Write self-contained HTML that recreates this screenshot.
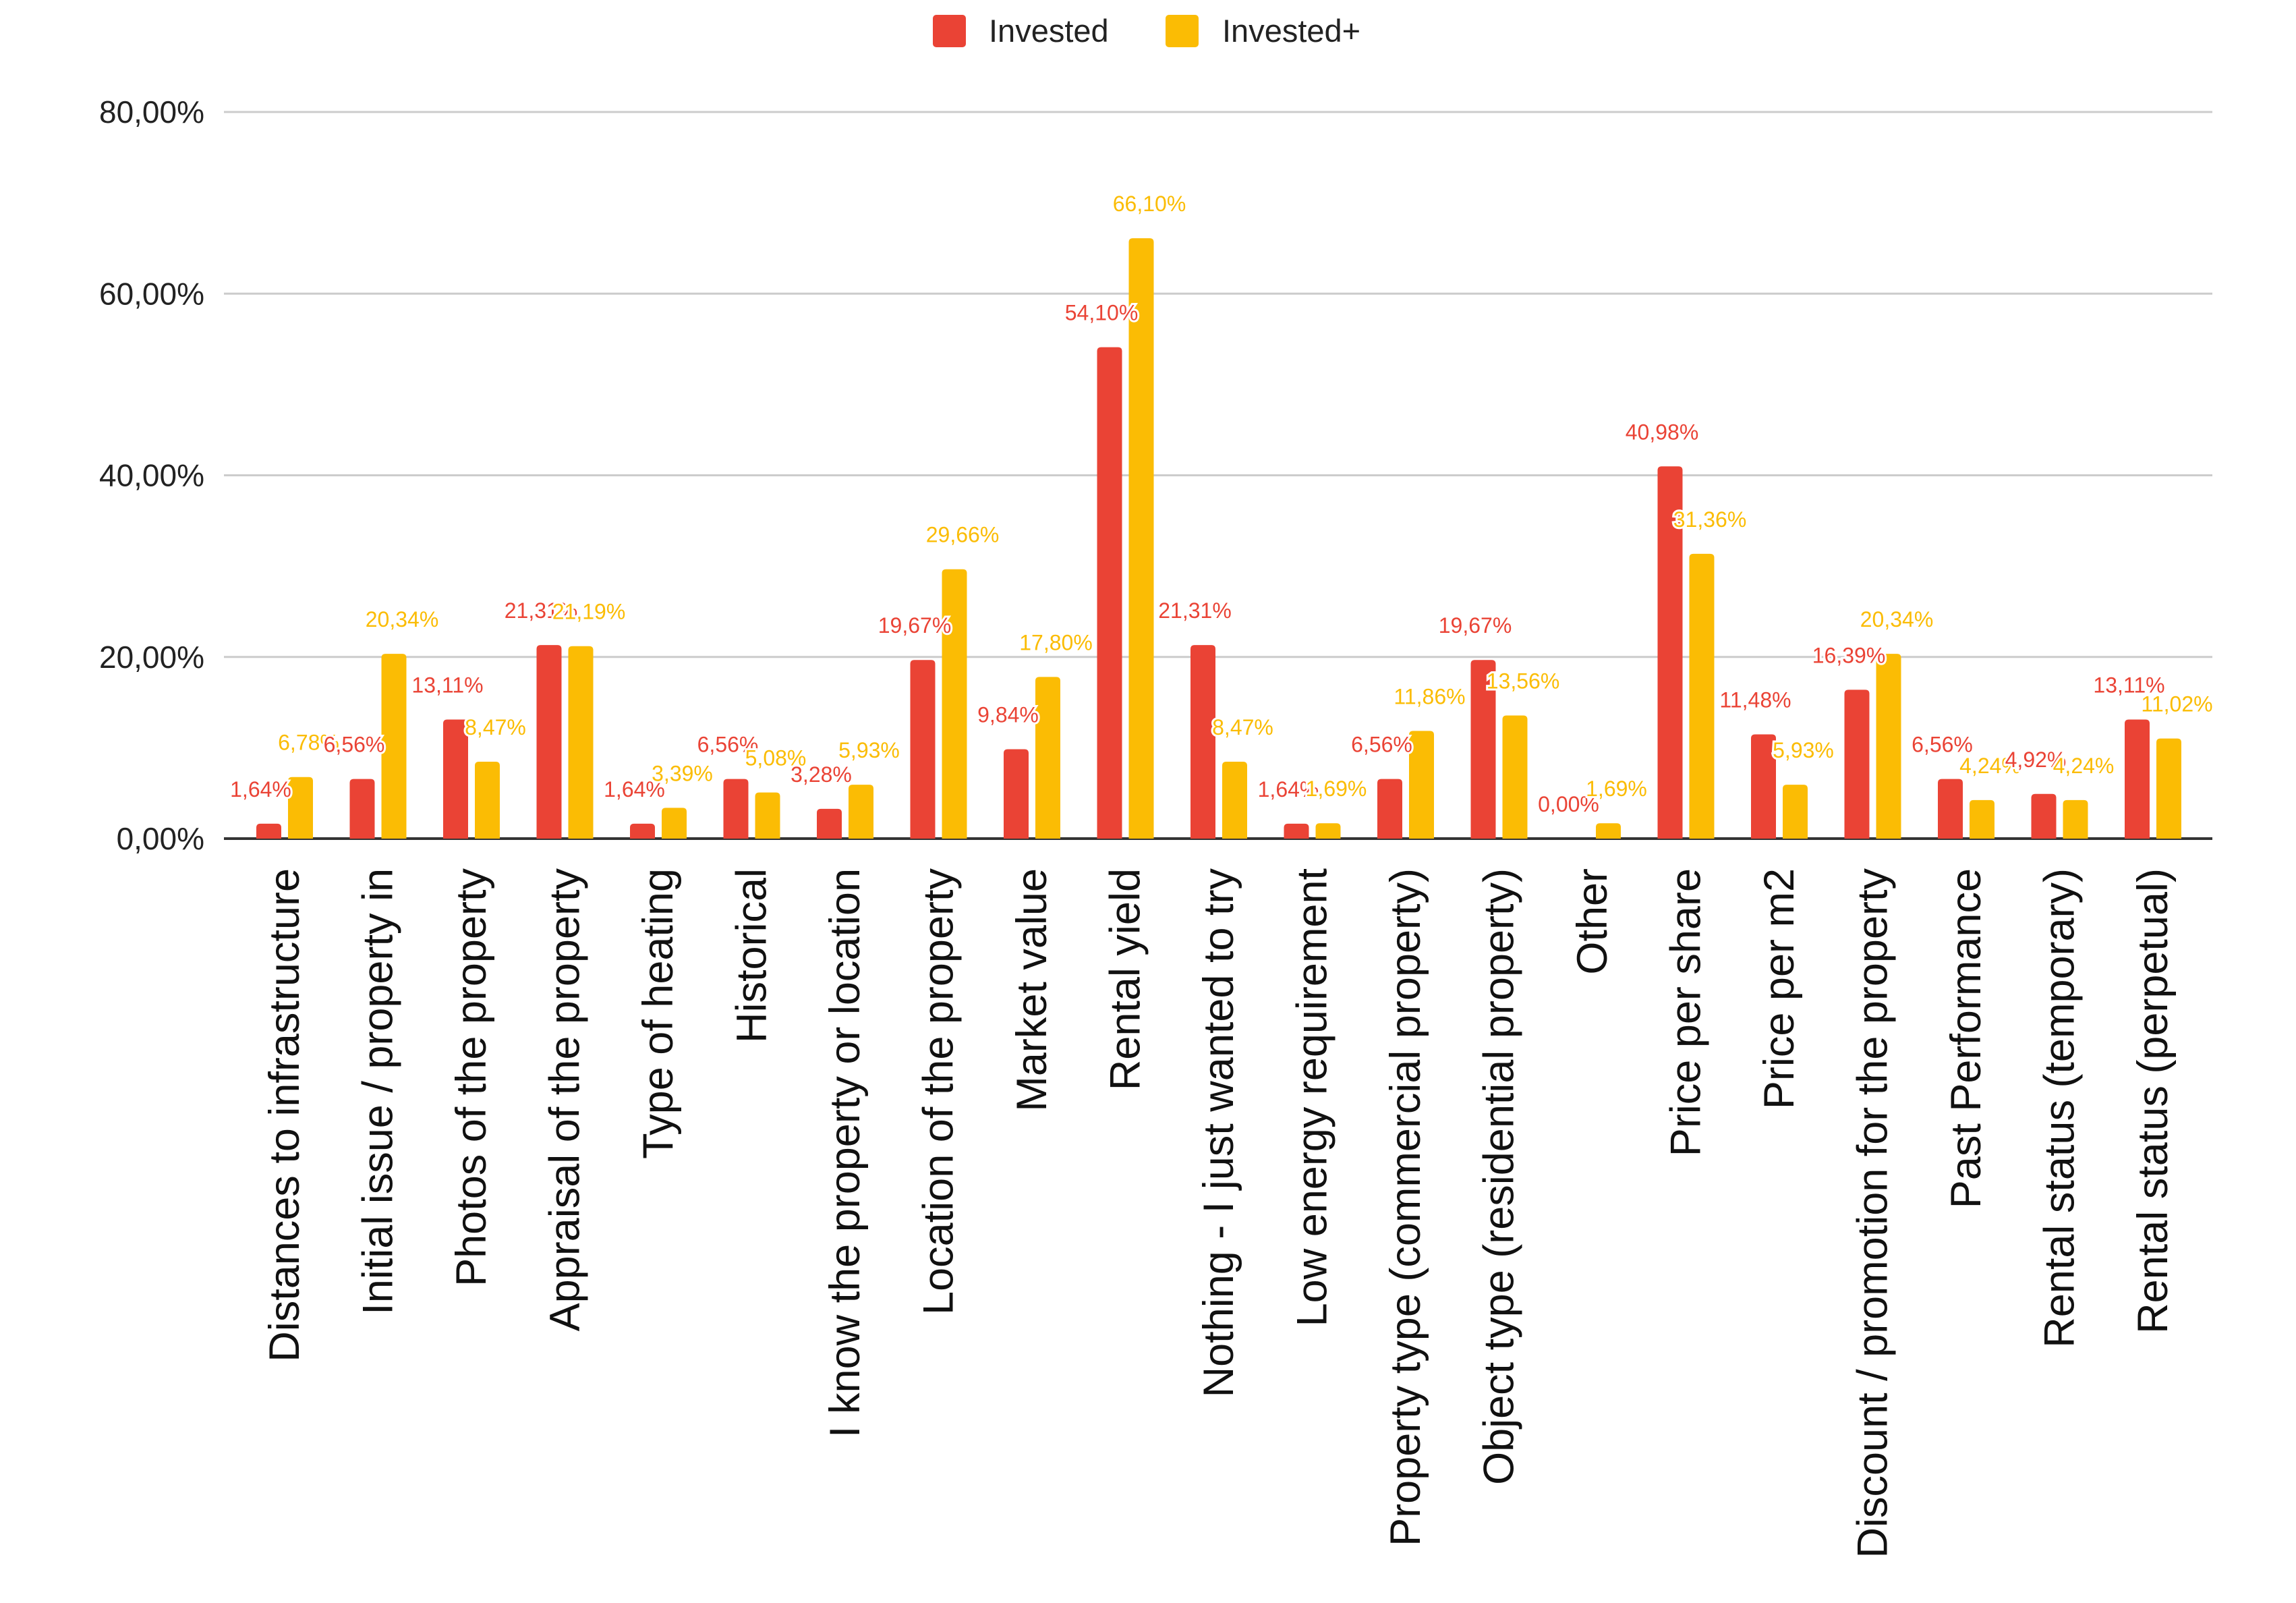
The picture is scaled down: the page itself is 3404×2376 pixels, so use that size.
<!DOCTYPE html>
<html><head><meta charset="utf-8"><style>
html,body{margin:0;padding:0;background:#fff;}
svg{display:block;font-family:"Liberation Sans",Arial,sans-serif;}
</style></head><body>
<svg id="chart" width="3404" height="2376" viewBox="0 0 3404 2376" xmlns="http://www.w3.org/2000/svg">
<g>
<rect x="1383" y="22" width="49" height="48" rx="5" fill="#EA4335"/>
<text x="1466" y="62" font-size="47" fill="#222">Invested</text>
<rect x="1728" y="22" width="49" height="48" rx="5" fill="#FBBC04"/>
<text x="1812" y="62" font-size="47" fill="#222">Invested+</text>
</g>
<g id="grid"></g><g id="bars"></g><g id="labels"></g><g id="xlabels"></g>
</svg>
<script>
const categories=["Distances to infrastructure","Initial issue / property in","Photos of the property","Appraisal of the property","Type of heating","Historical","I know the property or location","Location of the property","Market value","Rental yield","Nothing - I just wanted to try","Low energy requirement","Property type (commercial property)","Object type (residential property)","Other","Price per share","Price per m2","Discount / promotion for the property","Past Performance","Rental status (temporary)","Rental status (perpetual)"];
const invested=[1.64,6.56,13.11,21.31,1.64,6.56,3.28,19.67,9.84,54.10,21.31,1.64,6.56,19.67,0.00,40.98,11.48,16.39,6.56,4.92,13.11];
const investedPlus=[6.78,20.34,8.47,21.19,3.39,5.08,5.93,29.66,17.80,66.10,8.47,1.69,11.86,13.56,1.69,31.36,5.93,20.34,4.24,4.24,11.02];
const yTicks=[0,20,40,60,80];
const NS="http://www.w3.org/2000/svg";
const y0=1243,yTop=166,yMax=80,plotL=332,plotR=3280;
function yScale(v){return y0-(v/yMax)*(y0-yTop);}
const firstC=422,lastC=3192;
function xCenter(i){return firstC+i*(lastC-firstC)/(categories.length-1);}
function mk(tag,attrs,parent){const e=document.createElementNS(NS,tag);for(const k in attrs)e.setAttribute(k,attrs[k]);parent.appendChild(e);return e;}
const grid=document.getElementById('grid'),bars=document.getElementById('bars'),labels=document.getElementById('labels'),xl=document.getElementById('xlabels');
yTicks.forEach(t=>{
 const y=yScale(t);
 const l=mk('line',{x1:plotL,x2:plotR,y1:y,y2:y,stroke:t===0?'#333':'#ccc','stroke-width':t===0?4:3},grid);
 
 
 const tx=mk('text',{x:303,y:y+16,'font-size':46,'text-anchor':'end',fill:'#222'},grid);
 tx.textContent=t.toFixed(2).replace('.',',')+'%';
 
 
});
const bw=37,gap=10;
function fmt(v){return v.toFixed(2).replace('.',',')+'%';}
categories.forEach((c,i)=>{
 const cx=xCenter(i);
 const rx=cx-gap/2-bw, yx=cx+gap/2;
 [[invested[i],rx,'#EA4335','bar-invested'],[investedPlus[i],yx,'#FBBC04','bar-invested-plus']].forEach(([v,x,col,nm],k)=>{
  const top=yScale(v);
  if(v>0){
   const r=mk('path',{d:`M${x},${y0} L${x},${top+6} Q${x},${top} ${x+6},${top} L${x+bw-6},${top} Q${x+bw},${top} ${x+bw},${top+6} L${x+bw},${y0} Z`,fill:col},bars);
   
   
  }
  const t=mk('text',{x:x+bw/2+(k===0?-12:12),y:top-40,'font-size':32,'text-anchor':'middle',fill:col,stroke:'#fff','stroke-width':6,'paint-order':'stroke'},labels);
  t.textContent=fmt(v);
  
  
 });
 const lt=mk('text',{transform:`translate(${cx+21},1287) rotate(-90)`,'font-size':63,'text-anchor':'end',fill:'#111'},xl);
 lt.textContent=c;
 
 
});
</script>
</body></html>
